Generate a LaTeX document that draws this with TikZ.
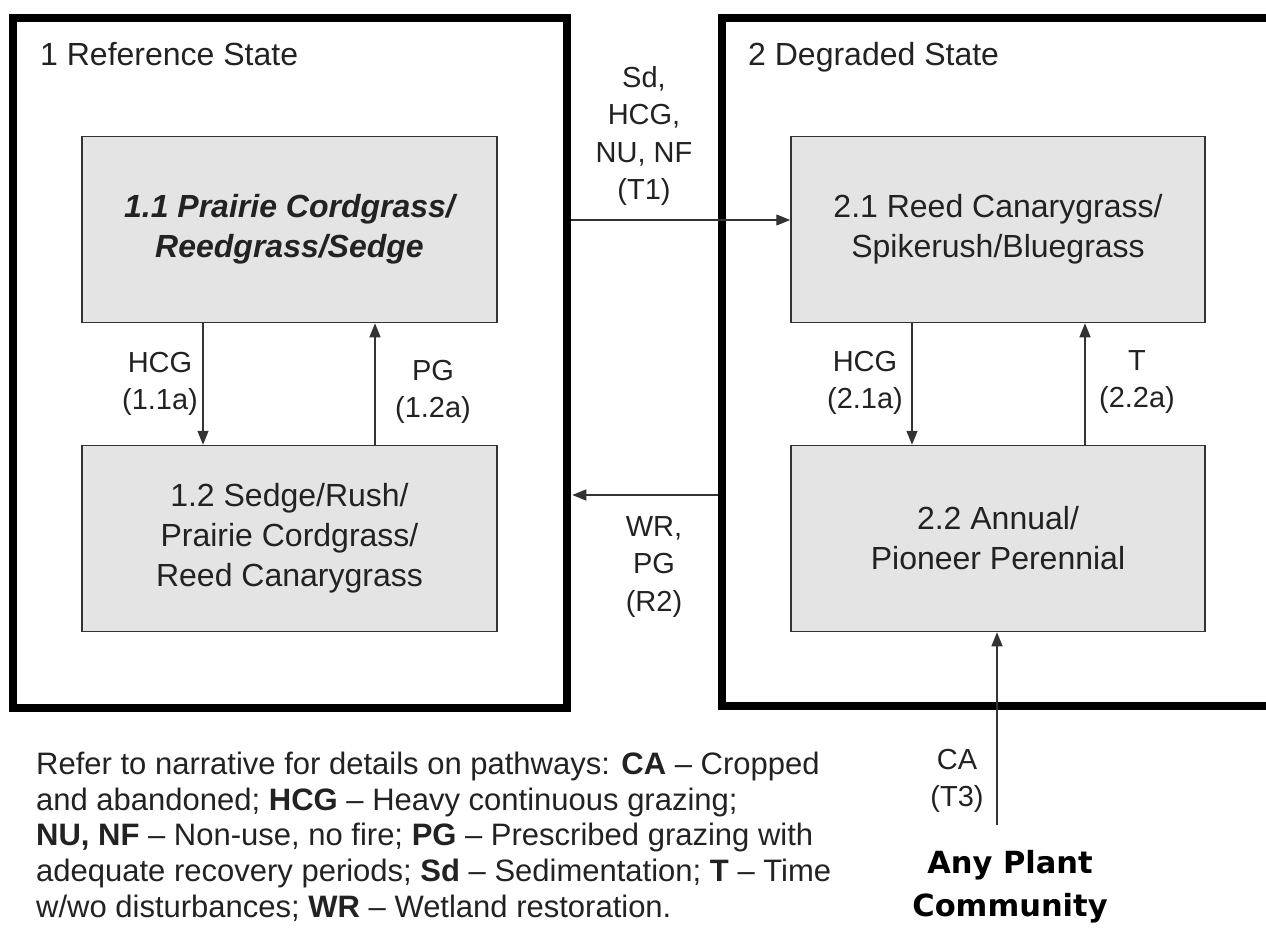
\documentclass[tikz,border=0pt]{standalone}
\usepackage{fontspec}
\setmainfont{Liberation Sans}
\newfontfamily\apcfont{DejaVu Sans}
\usetikzlibrary{arrows.meta}
\definecolor{txt}{HTML}{222222}
\definecolor{boxfill}{HTML}{E4E4E4}
\definecolor{edge}{HTML}{333333}
\begin{document}
\begin{tikzpicture}[x=1pt,y=-1pt,
  outer/.style={draw=black,line width=8.5pt,inner sep=0pt},
  inner/.style={draw=edge,fill=boxfill,line width=1.5pt,minimum width=415pt,
    minimum height=186pt,inner sep=0pt,align=center,text=txt,
    font=\fontsize{32}{40}\selectfont},
  title/.style={inner sep=0pt,text=txt,font=\fontsize{32}{38}\selectfont},
  lbl/.style={inner sep=0pt,align=center,text=txt,font=\fontsize{29}{37.5}\selectfont},
  arr/.style={draw=edge,line width=1.4pt,-{Triangle[length=14pt,width=11pt]}}]
\useasboundingbox (0,0) rectangle (1266,928);
\clip (0,0) rectangle (1266,928);
% state boxes
\node[outer,minimum width=554pt,minimum height=690pt] (s1) at (290,363) {};
\node[outer,minimum width=578pt,minimum height=688pt] (s2) at (1011,362) {};
\node[title,anchor=base west] (t1) at (40,66) {1 Reference State};
\node[title,anchor=base west] (t2) at (748,66) {2 Degraded State};
% community boxes
\node[inner] (b11) at (289.5,229.5) {\bfseries\itshape 1.1 Prairie Cordgrass/\\\bfseries\itshape Reedgrass/Sedge};
\node[inner] (b12) at (289.5,538.5) {1.2 Sedge/Rush/\\Prairie Cordgrass/\\Reed Canarygrass};
\node[inner,minimum width=414pt] (b21) at (998,229.5) {2.1 Reed Canarygrass/\\Spikerush/Bluegrass};
\node[inner,minimum width=414pt] (b22) at (998,538.5) {2.2 Annual/\\Pioneer Perennial};
% within-state pathways
\draw[arr] ([xshift=-86.5pt]b11.south) -- ([xshift=-86.5pt]b12.north);
\draw[arr] ([xshift=85.5pt]b12.north) -- ([xshift=85.5pt]b11.south);
\draw[arr] ([xshift=-86pt]b21.south) -- ([xshift=-86pt]b22.north);
\draw[arr] ([xshift=87pt]b22.north) -- ([xshift=87pt]b21.south);
\node[lbl] (l11) at (160,384) {HCG\\(1.1a)};
\node[lbl] (l12) at (433,392) {PG\\(1.2a)};
\node[lbl] (l21) at (865,383) {HCG\\(2.1a)};
\node[lbl] (l22) at (1137,382) {T\\(2.2a)};
% transitions
\coordinate (t1y) at (0,220);
\draw[arr] (s1.east |- t1y) -- (b21.west |- t1y);
\node[lbl] (lt1) at (644,136) {Sd,\\HCG,\\NU, NF\\(T1)};
\coordinate (r2y) at (0,495);
\draw[arr,shorten >=1pt] (s2.west |- r2y) -- (s1.east |- r2y);
\node[lbl] (lr2) at (654,567) {WR,\\PG\\(R2)};
\coordinate (ca) at (997,825);
\draw[arr] (ca) -- (ca |- b22.south);
\node[lbl] (lca) at (957,781) {CA\\(T3)};
\node[anchor=north,inner sep=0pt,align=center,font=\apcfont\bfseries\fontsize{30.5}{43}\selectfont] (apc) at (1010,850) {Any Plant\\Community};
% legend
\node[anchor=north west,inner sep=0pt,align=left,text=txt,font=\fontsize{31}{35.6}\selectfont] (leg) at (36,752)
{Refer to narrative for details on pathways: \textbf{CA} -- Cropped\\
and abandoned; \textbf{HCG} -- Heavy continuous grazing;\\
\textbf{NU, NF} -- Non-use, no fire; \textbf{PG} -- Prescribed grazing with\\
adequate recovery periods; \textbf{Sd} -- Sedimentation; \textbf{T} -- Time\\
w/wo disturbances; \textbf{WR} -- Wetland restoration.};
\end{tikzpicture}
\end{document}
